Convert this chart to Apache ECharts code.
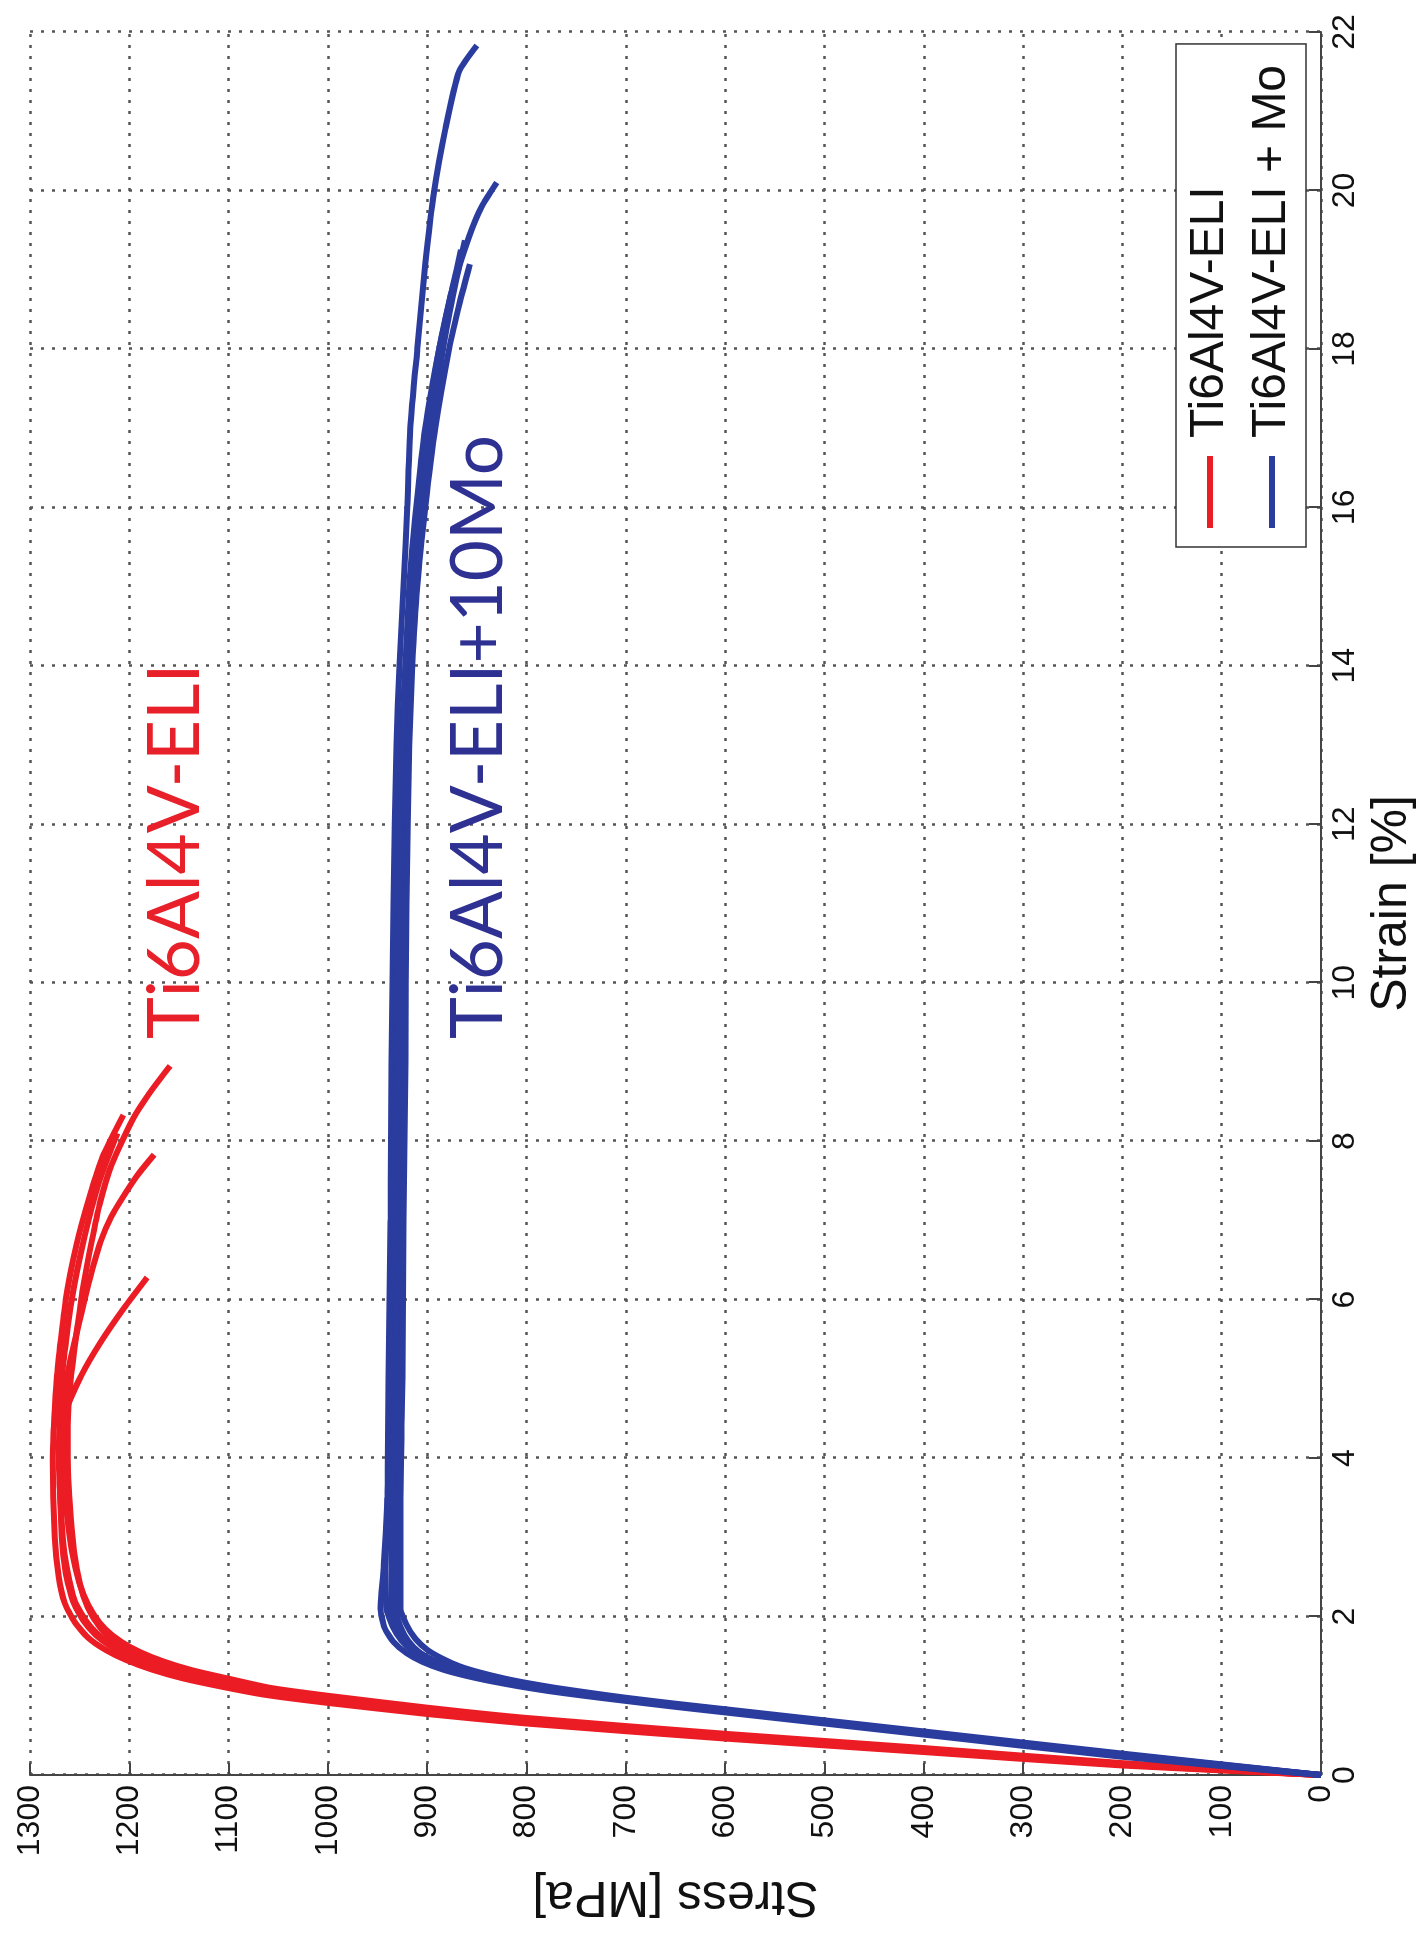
<!DOCTYPE html>
<html>
<head>
<meta charset="utf-8">
<script src="https://cdn.jsdelivr.net/npm/echarts@6/dist/echarts.min.js"></script>
<style>
html,body{margin:0;padding:0;width:1425px;height:1939px;overflow:hidden;background:#fff;}
#chart{position:absolute;left:-257px;top:257px;width:1939px;height:1425px;transform:rotate(-90deg);transform-origin:50% 50%;background:#fff;}
</style>
</head>
<body>
<div id="chart"></div>
<script>
// ---- data (strain [%], stress [MPa]) ----
const strainTicks = [0,2,4,6,8,10,12,14,16,18,20,22];
const stressTicks = [0,100,200,300,400,500,600,700,800,900,1000,1100,1200,1300];

// Ti6Al4V-ELI specimens
const eli1Strain = [0,0.14,0.33,0.50,0.70,0.82,0.97,1.07,1.17,1.28,1.39,1.51,1.64,1.80,2.0,2.25,2.6,3.1,4.0,4.41,5.0,5.68,6.2,6.73,7.2,7.7,8.29,8.6,8.95];
const eli1Stress = [0,200,400,600,800,900,1000,1060,1100,1138,1166,1190,1209,1225,1237,1246,1253,1258,1262,1262,1259,1252,1246,1238,1230,1218,1196,1180,1159];
const eli2Strain = [0,0.12,0.29,0.46,0.65,0.77,0.91,1.01,1.11,1.22,1.33,1.45,1.58,1.74,1.93,2.17,2.5,3.0,4.0,5.0,6.0,6.7,7.3,7.8,8.33];
const eli2Stress = [0,200,400,600,800,900,1000,1062,1105,1146,1177,1203,1224,1242,1255,1265,1271,1275,1277,1273,1264,1253,1240,1227,1206];
const eli3Strain = [0,0.14,0.32,0.49,0.68,0.80,0.95,1.05,1.15,1.26,1.37,1.49,1.62,1.78,1.97,2.2,2.55,3.0,4.0,5.0,6.0,6.8,7.5,8.1];
const eli3Stress = [0,200,400,600,800,900,1000,1060,1100,1140,1170,1195,1215,1232,1245,1255,1262,1267,1271,1268,1258,1245,1230,1212];
const eli4Strain = [0,0.15,0.34,0.52,0.72,0.85,1.00,1.10,1.21,1.32,1.43,1.55,1.68,1.84,2.03,2.27,2.6,3.1,4.0,5.0,5.89,6.3,6.73,7.05,7.36,7.6,7.83];
const eli4Stress = [0,200,400,600,800,900,1000,1058,1098,1136,1165,1189,1208,1224,1236,1246,1254,1261,1267,1263,1247,1239,1229,1218,1203,1190,1175];
const eli5Strain = [0,0.13,0.31,0.48,0.67,0.79,0.94,1.04,1.14,1.25,1.36,1.48,1.61,1.77,1.96,2.2,2.55,3.0,4.0,4.62,5.05,5.46,5.9,6.28];
const eli5Stress = [0,200,400,600,800,900,1000,1061,1102,1142,1172,1197,1217,1234,1247,1257,1264,1268,1270,1263,1248,1229,1205,1182];

// Ti6Al4V-ELI + 10Mo specimens
const mo1Strain = [0,0.25,0.53,0.81,0.88,0.955,1.02,1.08,1.14,1.20,1.27,1.35,1.45,1.56,1.70,1.88,2.1,2.6,3.5,5,7,9,11,13,14,15,16,17,18,19.07,20,20.76,21.5,21.83];
const mo1Stress = [0,200,400,600,650,700,740,775,805,830,855,878,898,914,926,935,941,942,940,939,937,936,934,931,928,924,920,917,910,902,893,882,868,850];
const mo2Strain = [0,0.24,0.52,0.80,0.87,0.945,1.01,1.07,1.13,1.19,1.26,1.34,1.44,1.55,1.69,1.87,2.1,3.5,5,7,9,11,13,14,15,16,17,18,18.74,19.41,19.8,20.1];
const mo2Stress = [0,200,400,600,650,700,740,774,803,828,852,874,893,908,919,927,932,931,929,928,927,925,922,919,915,908,900,888,875,858,845,830];
const mo3Strain = [0,0.23,0.51,0.79,0.86,0.935,1.0,1.06,1.12,1.18,1.25,1.33,1.43,1.54,1.68,1.86,2.1,2.6,3.5,5,7,9,11,13,14,15,16,17,18,18.8,19.37];
const mo3Stress = [0,200,400,600,650,700,742,778,808,834,860,884,905,921,934,943,947,944,940,936,934,932,930,926,922,916,906,896,884,872,862];
const mo4Strain = [0,0.27,0.55,0.83,0.90,0.975,1.04,1.10,1.16,1.22,1.29,1.37,1.47,1.58,1.72,1.90,2.1,3.5,5,7,9,11,13,14,15,16,17,18,18.6,19.07];
const mo4Stress = [0,200,400,600,650,700,738,771,799,823,846,867,885,900,912,921,927,927,925,924,922,921,918,915,910,902,892,878,867,857];
const mo5Strain = [0,0.26,0.54,0.82,0.89,0.965,1.03,1.09,1.15,1.21,1.28,1.36,1.46,1.57,1.71,1.89,2.1,3.5,5,7,9,11,13,14,15,16,17,18,18.8,19.25];
const mo5Stress = [0,200,400,600,650,700,740,774,803,829,853,876,896,911,922,931,936,935,933,931,930,928,925,922,918,911,902,888,874,866];

const nameEli = 'Ti6Al4V-ELI';
const nameMo = 'Ti6Al4V-ELI + Mo';
const annotEli = 'Ti6Al4V-ELI';
const annotMo = 'Ti6Al4V-ELI+10Mo';

const RED = '#ec1c24';
const BLUE = '#2b3c9f';

function pairs(xs, ys){ return xs.map((x,i)=>[x, ys[i]]); }
function curve(name, xs, ys, color){
  return {
    name: name, type: 'line', data: pairs(xs, ys), showSymbol: false, symbol: 'none',
    smooth: 0.2, lineStyle: {color: color, width: 6}, itemStyle: {color: color},
    emphasis: {disabled: true}, z: 3
  };
}

const chart = echarts.init(document.getElementById('chart'));
const axisFont = '"Liberation Sans", Arial, Helvetica, sans-serif';
const gridLine = {show: true, lineStyle: {color: '#555', width: 2.5, type: [3, 8]}};

chart.setOption({
  animation: false,
  backgroundColor: '#fff',
  grid: {left: 164, right: 32, top: 30, bottom: 104, containLabel: false},
  xAxis: {
    type: 'value', min: 0, max: 22, interval: 2,
    name: 'Strain [%]', nameLocation: 'middle', nameGap: 46,
    nameTextStyle: {fontSize: 50, color: '#111', fontFamily: axisFont},
    axisLine: {show: true, onZero: false, lineStyle: {color: '#444', width: 2}},
    axisTick: {show: true, inside: true, length: 12, lineStyle: {color: '#444', width: 2}},
    axisLabel: {fontSize: 32, color: '#111', margin: 8, fontFamily: axisFont,
      formatter: v => strainTicks.includes(v) ? String(v) : ''},
    splitLine: gridLine
  },
  yAxis: {
    type: 'value', min: 0, max: 1300, interval: 100,
    name: 'Stress [MPa]', nameLocation: 'middle', nameGap: 96, nameRotate: 90,
    nameTextStyle: {fontSize: 50, color: '#111', fontFamily: axisFont},
    axisLine: {show: true, onZero: false, lineStyle: {color: '#444', width: 2}},
    axisTick: {show: true, inside: true, length: 12, lineStyle: {color: '#444', width: 2}},
    axisLabel: {fontSize: 32, color: '#111', margin: 10, fontFamily: axisFont,
      formatter: v => stressTicks.includes(v) ? String(v) : ''},
    splitLine: gridLine
  },
  legend: {
    data: [nameEli, nameMo], orient: 'vertical', left: 1392, top: 1176,
    padding: [10, 21, 10, 19], itemGap: 14, itemWidth: 72, itemHeight: 6, icon: 'rect',
    borderColor: '#333', borderWidth: 1.5, backgroundColor: '#fff',
    textStyle: {fontSize: 48, color: '#111', fontFamily: axisFont, padding: [0, 0, 0, 13]},
    selectedMode: false
  },
  graphic: [
    {type: 'text', x: 900, y: 176, z: 10,
     style: {text: annotEli, fill: '#e8202a', fontSize: 71, fontFamily: 'Lato, "Open Sans", sans-serif', verticalAlign: 'middle', align: 'left'}},
    {type: 'text', x: 900, y: 479, z: 10,
     style: {text: annotMo, fill: '#2e3192', fontSize: 71, fontFamily: 'Lato, "Open Sans", sans-serif', verticalAlign: 'middle', align: 'left'}}
  ],
  series: [
    curve(nameEli, eli1Strain, eli1Stress, RED),
    curve(nameEli, eli2Strain, eli2Stress, RED),
    curve(nameEli, eli3Strain, eli3Stress, RED),
    curve(nameEli, eli4Strain, eli4Stress, RED),
    curve(nameEli, eli5Strain, eli5Stress, RED),
    curve(nameMo, mo1Strain, mo1Stress, BLUE),
    curve(nameMo, mo2Strain, mo2Stress, BLUE),
    curve(nameMo, mo3Strain, mo3Stress, BLUE),
    curve(nameMo, mo4Strain, mo4Stress, BLUE),
    curve(nameMo, mo5Strain, mo5Stress, BLUE)
  ]
});
</script>
</body>
</html>
